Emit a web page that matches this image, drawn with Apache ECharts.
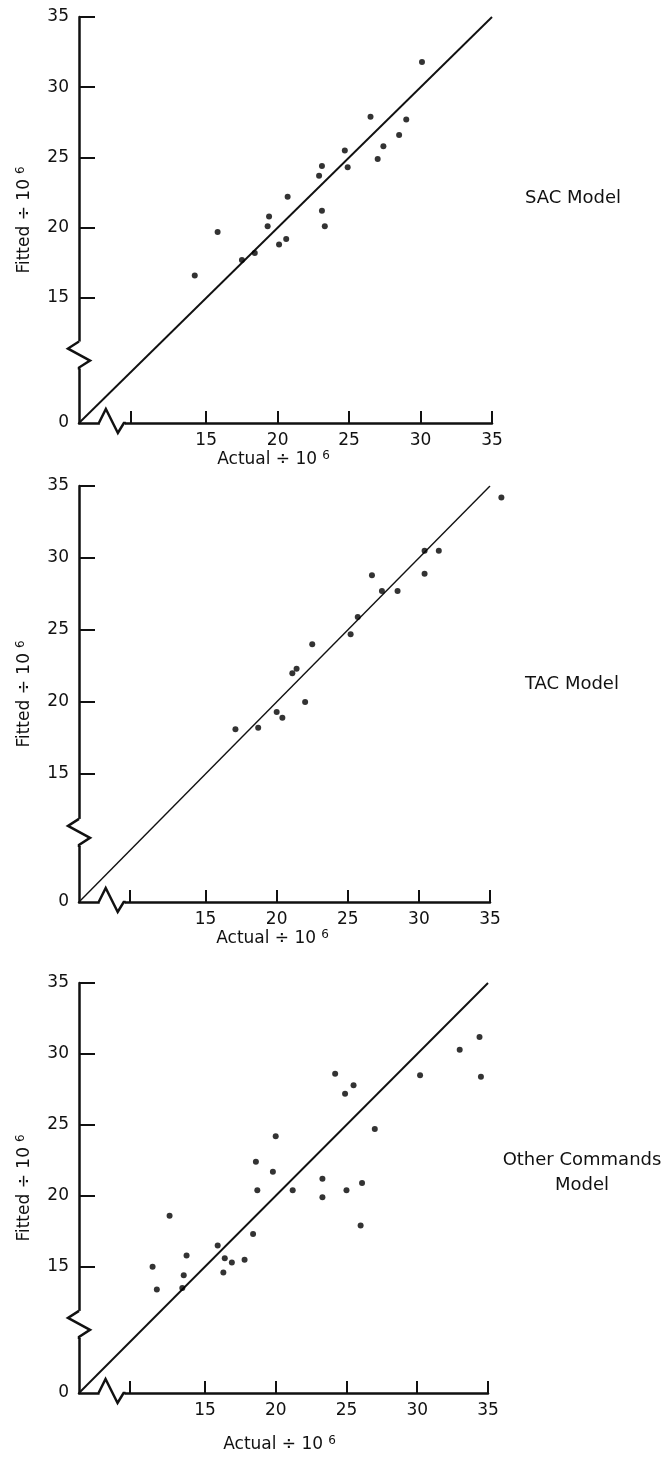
<!DOCTYPE html>
<html>
<head>
<meta charset="utf-8">
<script src="https://cdn.jsdelivr.net/npm/echarts@6/dist/echarts.min.js"></script>
<style>html,body{margin:0;padding:0;background:#fff;}#c{width:670px;height:1459px;}</style>
</head>
<body>
<div id="c"></div>
<script>
// ---- data (values ÷ 10^6) ----
const sacActual = [30.1, 26.5, 29.0, 28.5, 27.4, 27.0, 24.7, 24.9, 23.1, 22.9, 20.7, 23.1, 19.4, 19.3, 23.3, 20.6, 20.1, 18.4, 17.5, 15.8, 14.2];
const sacFitted = [31.8, 27.9, 27.7, 26.6, 25.8, 24.9, 25.5, 24.3, 24.4, 23.7, 22.2, 21.2, 20.8, 20.1, 20.1, 19.2, 18.8, 18.2, 17.7, 19.7, 16.6];
const tacActual = [35.8, 30.4, 31.4, 30.4, 26.7, 27.4, 28.5, 25.7, 25.2, 22.5, 21.4, 21.1, 22.0, 20.0, 20.4, 17.1, 18.7];
const tacFitted = [34.2, 30.5, 30.5, 28.9, 28.8, 27.7, 27.7, 25.9, 24.7, 24.0, 22.3, 22.0, 20.0, 19.3, 18.9, 18.1, 18.2];
const othActual = [34.4, 33.0, 34.5, 30.2, 24.2, 25.5, 24.9, 27.0, 20.0, 18.6, 19.8, 23.3, 18.7, 21.2, 23.3, 25.0, 26.1, 26.0, 18.4,
                   12.5, 11.3, 11.6, 13.7, 13.5, 13.4, 15.9, 16.4, 16.3, 16.9, 17.8];
const othFitted = [31.2, 30.3, 28.4, 28.5, 28.6, 27.8, 27.2, 24.7, 24.2, 22.4, 21.7, 21.2, 20.4, 20.4, 19.9, 20.4, 20.9, 17.9, 17.3,
                   18.6, 15.0, 13.4, 15.8, 14.4, 13.5, 16.5, 15.6, 14.6, 15.3, 15.5];
const panelNames = ['SAC Model', 'TAC Model', 'Other Commands\nModel'];
const xAxisTitle = 'Actual ÷ 10{s|6}';
const yAxisTitle = 'Fitted ÷ 10{s|6}';
const xTickLabels = [15, 20, 25, 30, 35];
const yTickLabels = [0, 15, 20, 25, 30, 35];
const axisOrigin = 6.1;      // axis value at the broken-axis corner (labelled 0)
const axisMax = 35;
const xMinorTick = 9.7;      // unlabelled tick just after the x-axis break
const yBreakAt = 10.9;       // where the zigzag sits on the y axis
const xBreakAt = 8.4;        // where the zigzag sits on the x axis

// ---- layout / style ----
const FONT = '"DejaVu Sans", sans-serif';
const INK = '#111';
const grids = [
  { left: 79, top: 17, width: 413, height: 406 },
  { left: 79, top: 486, width: 411, height: 416 },
  { left: 79, top: 983, width: 409, height: 410 }
];
const xNameGap = [26, 21, 42];
const xNameShift = [24, 24, 8];
const labelPos = [
  { x: 525, y: 186, align: 'left' },
  { x: 525, y: 672, align: 'left' },
  { x: 582, y: 1148, align: 'center' }
];
const datasets = [[sacActual, sacFitted], [tacActual, tacFitted], [othActual, othFitted]];
const supRich = { s: { fontSize: 12, fontFamily: FONT, color: INK, verticalAlign: 'top', padding: [0, 0, 0, 5] } };

const option = {
  backgroundColor: '#fff',
  animation: false,
  grid: grids,
  xAxis: grids.map((g, i) => ({
    type: 'value', gridIndex: i, min: axisOrigin, max: axisMax,
    axisLine: { show: true, onZero: false, lineStyle: { color: INK, width: 2.5 } },
    axisTick: { show: true, inside: true, length: 12, lineStyle: { color: INK, width: 2 },
                customValues: [xMinorTick].concat(xTickLabels) },
    axisLabel: { customValues: xTickLabels, color: INK, fontSize: 17, fontFamily: FONT, margin: 9 },
    splitLine: { show: false },
    name: xAxisTitle, nameLocation: 'middle', nameGap: xNameGap[i],
    nameTextStyle: { color: INK, fontSize: 17, fontFamily: FONT, lineHeight: 20, padding: [0, xNameShift[i], 0, 0], rich: supRich }
  })),
  yAxis: grids.map((g, i) => ({
    type: 'value', gridIndex: i, min: axisOrigin, max: axisMax,
    axisLine: { show: true, onZero: false, lineStyle: { color: INK, width: 2.5 } },
    axisTick: { show: true, inside: true, length: 16, lineStyle: { color: INK, width: 2 },
                customValues: yTickLabels.slice(1) },
    axisLabel: { customValues: [axisOrigin].concat(yTickLabels.slice(1)),
                 formatter: v => (v < yTickLabels[1] ? String(yTickLabels[0]) : String(v)),
                 color: INK, fontSize: 17, fontFamily: FONT, margin: 10 },
    splitLine: { show: false },
    name: yAxisTitle, nameLocation: 'middle', nameGap: 44, nameRotate: 90,
    nameTextStyle: { color: INK, fontSize: 17, fontFamily: FONT, lineHeight: 20, rich: supRich }
  })),
  series: [],
  graphic: panelNames.map((t, i) => ({
    type: 'text', x: labelPos[i].x, y: labelPos[i].y,
    style: { text: t, fill: INK, fontSize: 18, fontFamily: FONT, align: labelPos[i].align, lineHeight: 25 }
  }))
};

datasets.forEach((d, i) => {
  option.series.push({
    type: 'line', xAxisIndex: i, yAxisIndex: i, symbol: 'none', silent: true,
    data: [[axisOrigin, axisOrigin], [axisMax, axisMax]],
    lineStyle: { color: INK, width: i === 1 ? 1.4 : 1.9 }, z: 3
  });
  option.series.push({
    type: 'scatter', xAxisIndex: i, yAxisIndex: i, clip: false,
    symbolSize: 6, itemStyle: { color: '#000' },
    data: d[0].map((x, k) => [x, d[1][k]]), z: 4
  });
  option.series.push({
    type: 'custom', xAxisIndex: i, yAxisIndex: i, clip: false, silent: true, z: 5,
    data: [[axisOrigin, yBreakAt, 0], [xBreakAt, axisOrigin, 1]],
    renderItem: (params, api) => {
      const p = api.coord([api.value(0), api.value(1)]);
      const kind = api.value(2);
      const st = { stroke: INK, lineWidth: 2.5, fill: null, lineJoin: 'miter' };
      if (kind === 0) {
        return { type: 'group', children: [
          { type: 'line', shape: { x1: p[0], y1: p[1] - 14, x2: p[0], y2: p[1] + 13 }, style: { stroke: '#fff', lineWidth: 5 } },
          { type: 'polyline', shape: { points: [[p[0], p[1] - 14], [p[0] - 11, p[1] - 7], [p[0] + 11, p[1] + 5], [p[0], p[1] + 12], [p[0], p[1] + 14]] }, style: st }
        ] };
      }
      return { type: 'group', children: [
        { type: 'line', shape: { x1: p[0] - 12, y1: p[1], x2: p[0] + 13, y2: p[1] }, style: { stroke: '#fff', lineWidth: 5 } },
        { type: 'polyline', shape: { points: [[p[0] - 13, p[1]], [p[0] - 6, p[1] - 14], [p[0] + 6, p[1] + 10], [p[0] + 12, p[1]], [p[0] + 14, p[1]]] }, style: st }
      ] };
    }
  });
});

const chart = echarts.init(document.getElementById('c'), null, { renderer: 'canvas' });
chart.setOption(option);
</script>
</body>
</html>
